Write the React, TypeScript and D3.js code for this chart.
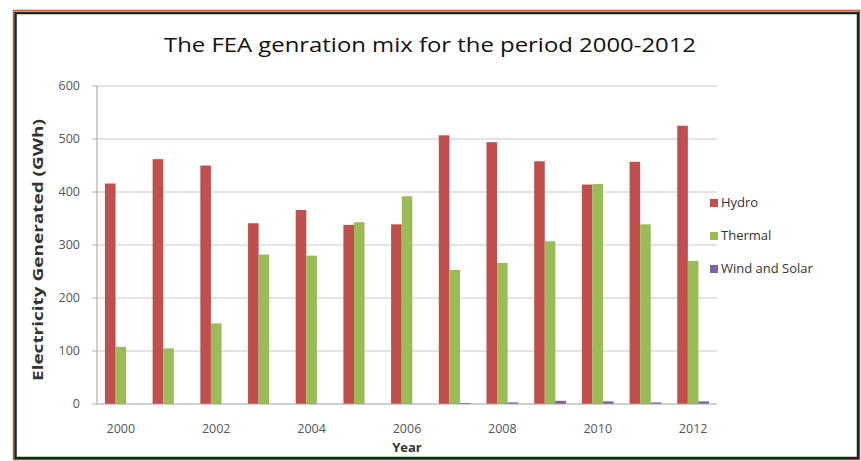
import * as d3 from 'd3';

const years = ['2000', '2001', '2002', '2003', '2004', '2005', '2006', '2007', '2008', '2009', '2010', '2011', '2012'];
const hydro = [416, 462, 450, 341, 366, 338, 339, 507, 494, 458, 414, 457, 525];
const thermal = [108, 105, 152, 282, 280, 343, 392, 253, 266, 307, 415, 339, 270];
const windSolar = [0, 0, 0, 0, 0, 0, 0, 2, 3, 6, 5, 3, 5];
const seriesNames = ['Hydro', 'Thermal', 'Wind and Solar'];
const seriesColors = ['#C0504D', '#9BBB59', '#8064A2'];
const yTicks = [0, 100, 200, 300, 400, 500, 600];

const W = 861;
const H = 461;
const PLOT = { left: 97, right: 717, top: 86, bottom: 404 };

export default function App() {
    const x0 = d3.scaleBand<string>().domain(years).range([PLOT.left, PLOT.right]);
    const g = x0.bandwidth();
    const b = g / 4.5; // excel gap width 150%
    const x1 = d3.scaleBand<string>().domain(seriesNames).range([b * 0.75, g - b * 0.75]);
    const y = d3.scaleLinear().domain([0, 600]).range([PLOT.bottom, PLOT.top]);

    const values = [hydro, thermal, windSolar];
    const font = '"Open Sans", "Liberation Sans", sans-serif';

    return (
        <div style={{ position: 'absolute', left: 0, top: 0 }}>
            <svg width={W} height={H} style={{ display: 'block', fontFamily: font }}>
                <rect x={0} y={0} width={W} height={H} fill="#fff" />
                {/* frame */}
                <rect x={13.5} y={10.5} width={846} height={449} fill="none" stroke="#d9542b" strokeWidth={1.5} />
                <rect x={15.5} y={13} width={842.5} height={445} fill="none" stroke="#222" strokeWidth={2.5} />

                <text x={430} y={52} textAnchor="middle" fontSize={20} fill="#111" textLength={532} lengthAdjust="spacingAndGlyphs">
                    The FEA genration mix for the period 2000-2012
                </text>

                {/* gridlines */}
                {yTicks.map(t => (
                    <g key={t}>
                        {t > 0 && (
                            <line x1={PLOT.left} x2={PLOT.right} y1={y(t)} y2={y(t)} stroke="#c8c8c8" strokeWidth={1.2} />
                        )}
                        <line x1={PLOT.left - 5} x2={PLOT.left} y1={y(t)} y2={y(t)} stroke="#b0b0b0" />
                        <text x={PLOT.left - 17} y={y(t) + 4} textAnchor="end" fontSize={12.5} fill="#555">
                            {t}
                        </text>
                    </g>
                ))}

                {/* bars */}
                {years.map((yr, i) => (
                    <g key={yr} transform={`translate(${x0(yr)},0)`}>
                        {seriesNames.map((s, k) => {
                            const v = values[k][i];
                            return (
                                <rect key={s} x={x1(s)} y={y(v)} width={x1.bandwidth()} height={y(0) - y(v)} fill={seriesColors[k]} />
                            );
                        })}
                    </g>
                ))}

                {/* axes */}
                <line x1={PLOT.left} x2={PLOT.left} y1={PLOT.top} y2={PLOT.bottom} stroke="#b0b0b0" strokeWidth={1.2} />
                <line x1={PLOT.left} x2={PLOT.right} y1={PLOT.bottom} y2={PLOT.bottom} stroke="#a0a0a0" strokeWidth={1.2} />
                {years.map((yr, i) =>
                    i % 2 === 0 ? (
                        <text key={yr} x={(x0(yr) ?? 0) + g / 2} y={433} textAnchor="middle" fontSize={12.5} fill="#555">
                            {yr}
                        </text>
                    ) : null
                )}

                <text x={(PLOT.left + PLOT.right) / 2} y={452} textAnchor="middle" fontSize={13} fontWeight={700} fill="#333">
                    Year
                </text>
                <text
                    transform={`translate(43,250) rotate(-90)`}
                    textAnchor="middle"
                    fontSize={14}
                    fontWeight={700}
                    fill="#333"
                    textLength={262}
                    lengthAdjust="spacingAndGlyphs"
                >
                    Electricity Generated  (GWh)
                </text>

                {/* legend */}
                {seriesNames.map((s, k) => (
                    <g key={s} transform={`translate(710,${205 + k * 33})`}>
                        <rect x={0} y={-6} width={8} height={8} fill={seriesColors[k]} />
                        <text x={11} y={2} fontSize={13} fill="#333">
                            {s}
                        </text>
                    </g>
                ))}
            </svg>
        </div>
    );
}
